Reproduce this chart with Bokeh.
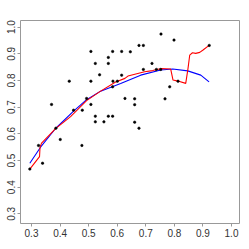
from bokeh.plotting import figure
from bokeh.models import FixedTicker, PrintfTickFormatter, Range1d
from bokeh.embed import file_html
from bokeh.resources import INLINE

# scatter points
pts_x = [0.294, 0.3386, 0.3245, 0.4006, 0.4763, 0.3852, 0.3701, 0.4472, 0.4777, 0.4928,
         0.5078, 0.5233, 0.5233, 0.5534, 0.5688, 0.5839, 0.6270, 0.6610, 0.6610, 0.6610,
         0.6761, 0.7672, 0.7837, 0.8128, 0.7522, 0.7371, 0.6915, 0.7217, 0.5839, 0.5850,
         0.6004, 0.5383, 0.6155, 0.4321, 0.5078, 0.5078, 0.5839, 0.6155, 0.6459, 0.5688,
         0.5233, 0.5688, 0.6761, 0.6915, 0.7532, 0.7988, 0.9221]
pts_y = [0.468, 0.490, 0.5564, 0.5789, 0.5564, 0.6213, 0.7102, 0.6888, 0.6888, 0.7327,
         0.7102, 0.6663, 0.6449, 0.6449, 0.6663, 0.6663, 0.7327, 0.7312, 0.7094, 0.6438,
         0.6213, 0.7312, 0.7762, 0.7975, 0.8414, 0.8414, 0.8414, 0.8639, 0.7761, 0.7975,
         0.7975, 0.8211, 0.8200, 0.7975, 0.7975, 0.9089, 0.9089, 0.9089, 0.9074, 0.8864,
         0.8639, 0.8639, 0.9314, 0.9314, 0.9738, 0.9513, 0.9314]

# smooth fit (blue)
fit_x = [0.294, 0.3315, 0.3841, 0.4472, 0.4928, 0.5418, 0.6120, 0.6821, 0.7522, 0.7942,
         0.8468, 0.8924, 0.9215]
fit_y = [0.490, 0.550, 0.620, 0.685, 0.728, 0.760, 0.789, 0.820, 0.839, 0.843,
         0.836, 0.820, 0.795]

# running smoother (red)
run_x = [0.2940, 0.3280, 0.3298, 0.3351, 0.3841, 0.4367, 0.4928, 0.5418, 0.5944, 0.6270,
         0.6375, 0.6961, 0.7241, 0.7546, 0.7872, 0.7953, 0.8128, 0.8398, 0.8478, 0.8538,
         0.8633, 0.8748, 0.8888, 0.9004, 0.9215]
run_y = [0.4675, 0.5144, 0.5501, 0.5651, 0.6195, 0.6645, 0.7246, 0.7602, 0.7940, 0.8079,
         0.8165, 0.8326, 0.8371, 0.8447, 0.8428, 0.8015, 0.7977, 0.7891, 0.8454, 0.8953,
         0.9039, 0.9017, 0.9054, 0.9141, 0.9317]

ticks = [0.3, 0.4, 0.5, 0.6, 0.7, 0.8, 0.9, 1.0]

p = figure(width=241, height=241, output_backend="svg", toolbar_location=None,
           x_range=Range1d(0.2614, 1.028), y_range=Range1d(0.264, 1.0248),
           min_border_left=20, min_border_right=2, min_border_top=20, min_border_bottom=18)
p.background_fill_color = "white"
p.border_fill_color = "white"
p.grid.visible = False
p.outline_line_color = "#999999"
p.outline_line_width = 1

for ax in (p.xaxis[0], p.yaxis[0]):
    ax.ticker = FixedTicker(ticks=ticks)
    ax.formatter = PrintfTickFormatter(format="%.1f")
    ax.axis_line_color = None
    ax.major_tick_line_color = "#999999"
    ax.major_tick_out = 3
    ax.major_tick_in = 0
    ax.minor_tick_line_color = None
    ax.major_label_text_font = "Liberation Sans"
    ax.major_label_text_font_size = "10px"
    ax.major_label_text_color = "#333333"
    ax.major_label_standoff = 2

p.yaxis[0].major_label_orientation = "vertical"

p.line(fit_x, fit_y, line_color="#0000FF", line_width=1.1)
p.line(run_x, run_y, line_color="#FF0000", line_width=1.1)
p.scatter(pts_x, pts_y, size=2.5, fill_color="black", line_color="black", line_width=0.5)

open("out.html", "w").write(file_html(p, INLINE))
